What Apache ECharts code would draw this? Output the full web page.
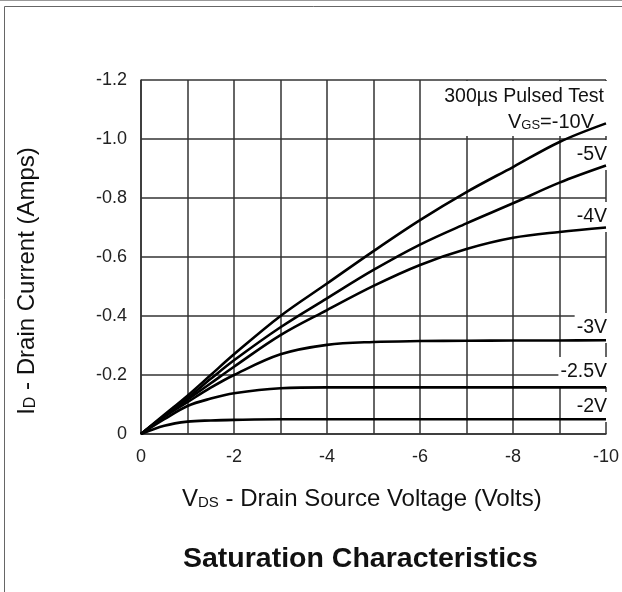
<!DOCTYPE html>
<html>
<head>
<meta charset="utf-8">
<script src="https://cdn.jsdelivr.net/npm/echarts/dist/echarts.min.js"></script>
<style>
html, body { margin: 0; padding: 0; background: #fff; }
#main { width: 622px; height: 592px; }
</style>
</head>
<body>
<div id="main"></div>
<script>
// 横轴：漏源电压 VDS (V)
const vds = [0, -0.5, -1, -1.5, -2, -3, -4, -5, -6, -7, -8, -9, -10]
// 各栅压下的漏极电流 ID (A)
const id10 = [0, -0.065, -0.13, -0.2, -0.27, -0.4, -0.51, -0.62, -0.725, -0.82, -0.905, -0.99, -1.053]
const id5 = [0, -0.062, -0.122, -0.187, -0.25, -0.362, -0.46, -0.556, -0.642, -0.714, -0.782, -0.852, -0.91]
const id4 = [0, -0.06, -0.116, -0.172, -0.228, -0.335, -0.42, -0.502, -0.573, -0.627, -0.665, -0.685, -0.7]
const id3 = [0, -0.058, -0.108, -0.157, -0.2, -0.27, -0.302, -0.312, -0.315, -0.316, -0.317, -0.317, -0.318]
const id25 = [0, -0.05, -0.095, -0.12, -0.138, -0.155, -0.158, -0.158, -0.158, -0.158, -0.158, -0.158, -0.158]
const id2 = [0, -0.028, -0.042, -0.046, -0.048, -0.05, -0.05, -0.05, -0.05, -0.05, -0.05, -0.05, -0.05]

// 刻度文字
const xTickLabels = ['0', '-2', '-4', '-6', '-8', '-10']
const yTickLabels = ['0', '-0.2', '-0.4', '-0.6', '-0.8', '-1.0', '-1.2']

const font = 'Liberation Sans, Arial, sans-serif'
const gridColor = '#333'

// 把 x 和 y 拼成 [x, y]
function pairs(ys) {
    return vds.map((x, i) => [x, ys[i]])
}

const curves = [id10, id5, id4, id3, id25, id2]

var myChart = echarts.init(document.getElementById('main'))

var option = {
    animation: false,
    backgroundColor: '#fff',
    title: {
        text: 'Saturation Characteristics',
        left: 178,
        top: 540,
        textStyle: { fontFamily: font, fontSize: 28.5, fontWeight: 'bold', color: '#111' }
    },
    grid: { left: 141, right: 11, top: 80, bottom: 158 },
    xAxis: {
        type: 'value',
        min: -10,
        max: 0,
        interval: 1,
        inverse: true,
        axisLine: { onZero: false, lineStyle: { color: gridColor, width: 1.5 } },
        axisTick: { show: false },
        splitLine: { lineStyle: { color: gridColor, width: 1.5 } },
        axisLabel: {
            margin: 14,
            fontFamily: font,
            fontSize: 18,
            color: '#222',
            formatter: v => (Math.round(v) % 2 === 0 ? xTickLabels[Math.round(-v / 2)] : '')
        }
    },
    yAxis: {
        type: 'value',
        min: -1.2,
        max: 0,
        interval: 0.2,
        inverse: true,
        axisLine: { onZero: false, lineStyle: { color: gridColor, width: 1.5 } },
        axisTick: { show: false },
        splitLine: { lineStyle: { color: gridColor, width: 1.5 } },
        axisLabel: {
            margin: 14,
            fontFamily: font,
            fontSize: 18,
            color: '#222',
            formatter: v => yTickLabels[Math.round(-v / 0.2)]
        }
    },
    series: curves.map(ys => ({
        type: 'line',
        data: pairs(ys),
        smooth: 0.35,
        showSymbol: false,
        lineStyle: { color: '#000', width: 2.6 },
        z: 3
    })),
    graphic: [
        // 外框
        { type: 'line', silent: true, shape: { x1: 0, y1: 0.5, x2: 622, y2: 0.5 }, style: { stroke: '#999', lineWidth: 1 } },
        { type: 'rect', silent: true, shape: { x: 4.5, y: 6.5, width: 700, height: 700 }, style: { fill: 'none', stroke: '#666', lineWidth: 1 } },
        // 右上角说明的白底
        { type: 'rect', silent: true, z: 1, shape: { x: 441, y: 81, width: 169, height: 55 }, style: { fill: '#fff' } },
        {
            type: 'text', z: 1, x: 604, y: 97,
            style: { text: '300µs Pulsed Test', align: 'right', verticalAlign: 'middle', font: '19.5px ' + font, fill: '#111' }
        },
        {
            type: 'text', z: 1, x: 594, y: 122,
            style: {
                text: '{n|V}{s|GS}{n|=-10V}', align: 'right', verticalAlign: 'middle', fill: '#111',
                rich: {
                    n: { fontFamily: font, fontSize: 20, lineHeight: 22 },
                    s: { fontFamily: font, fontSize: 13, lineHeight: 22, padding: [6, 0, 0, 0] }
                }
            }
        },
        // 各条曲线的栅压标注
        ...[['-5V', 155], ['-4V', 217], ['-3V', 328], ['-2.5V', 372], ['-2V', 407]].map(([t, y]) => ({
            type: 'text', z: 1, x: 609, y: y,
            style: {
                text: t, align: 'right', verticalAlign: 'middle', font: '19.5px ' + font, fill: '#111',
                backgroundColor: '#fff', padding: [5, 2]
            }
        })),
        // 坐标轴名称
        {
            type: 'text', x: 182, y: 499,
            style: {
                text: '{n|V}{s|DS}{n| - Drain Source Voltage (Volts)}', align: 'left', verticalAlign: 'middle', fill: '#111',
                rich: {
                    n: { fontFamily: font, fontSize: 24, lineHeight: 28 },
                    s: { fontFamily: font, fontSize: 15, lineHeight: 28, padding: [7, 0, 0, 0] }
                }
            }
        },
        {
            type: 'text', x: 27, y: 281, rotation: Math.PI / 2,
            style: {
                text: '{n|I}{s|D}{n| - Drain Current (Amps)}', align: 'center', verticalAlign: 'middle', fill: '#111',
                rich: {
                    n: { fontFamily: font, fontSize: 24, lineHeight: 28 },
                    s: { fontFamily: font, fontSize: 16, lineHeight: 28, padding: [7, 0, 0, 0] }
                }
            }
        }
    ]
}

option && myChart.setOption(option)
</script>
</body>
</html>
